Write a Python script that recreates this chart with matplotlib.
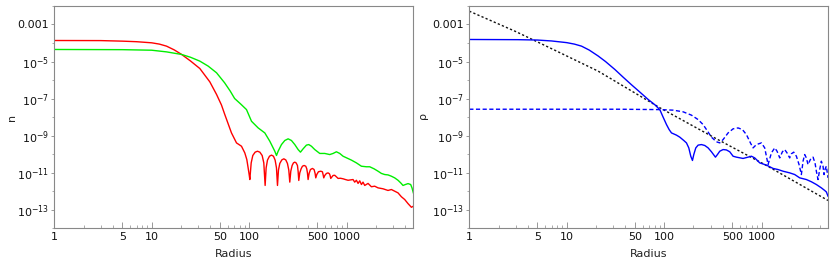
import numpy as np
import matplotlib
matplotlib.use("Agg")
import matplotlib.pyplot as plt
from matplotlib.ticker import FixedLocator, FuncFormatter

plt.rcParams['font.family'] = ['DejaVu Sans']
plt.rcParams['mathtext.default'] = 'regular'

# ---------------- data (radius, log10 of value) ----------------
red_r = [1, 3, 5, 7, 10, 12, 14.2, 17, 20.3, 25, 31.2, 39.5, 46.3, 52, 56.3, 65.9, 74.2, 83.5,
         90.3, 94.7, 97.7, 100.1,
         101.7, 105.0, 109.1, 115.3, 121.8, 128.8, 136.1, 141.5,
         146.0, 149.5, 154.3, 161.8, 169.6, 177.8, 184.9, 190.9,
         195.5, 200.1, 206.5, 216.5, 227.0, 237.9, 247.4, 255.4,
         261.5, 267.8, 276.4, 285.2, 294.3, 303.7, 313.4, 318.4,
         323.5, 331.1, 341.8, 352.7, 366.8, 381.5, 390.6, 396.9,
         403.2, 412.9, 426.0, 446.6, 464.5, 475.7,
         483.2, 494.8, 514.6, 543.7, 565.5, 574.4,
         583.6, 597.6, 621.6, 646.5, 667.3, 677.9,
         688.6, 727.4, 756.6, 793.4, 818.7, 865.1, 921.3, 973.6, 1037,
         1166, 1213, 1263, 1313, 1366, 1422, 1476, 1537, 1663, 1800, 1946,
         2105, 2368, 2664, 2888, 3121, 3375, 3655, 3954, 4275, 4634, 4853]
red_log = [-3.865, -3.87, -3.90, -3.93, -3.99, -4.06, -4.17, -4.37, -4.62, -4.97, -5.38, -6.10,
           -6.78, -7.35, -7.87, -8.86, -9.40, -9.58, -9.94, -10.30, -10.75, -11.11,
           -11.38, -10.48, -10.08, -9.90, -9.85, -9.90, -10.08, -10.48,
           -11.70, -10.75, -10.33, -10.12, -10.06, -10.12, -10.33, -10.75,
           -11.70, -10.87, -10.51, -10.32, -10.26, -10.32, -10.51, -10.87,
           -11.52, -10.93, -10.62, -10.48, -10.44, -10.48, -10.62, -10.93,
           -11.43, -11.02, -10.80, -10.66, -10.62, -10.66, -10.80, -11.02,
           -11.38, -11.05, -10.84, -10.78, -10.84, -11.05,
           -11.29, -11.11, -10.96, -10.93, -10.96, -11.11,
           -11.29, -11.16, -11.05, -11.02, -11.07, -11.16,
           -11.32, -11.16, -11.15, -11.25, -11.32, -11.31, -11.34, -11.38, -11.42,
           -11.38, -11.52, -11.42, -11.59, -11.45, -11.65, -11.52, -11.70, -11.59, -11.77, -11.74,
           -11.83, -11.88, -11.97, -11.92, -12.01, -12.10, -12.31, -12.46, -12.68, -12.88, -12.82]

green_r = [1, 5, 10, 14.2, 20.3, 25, 31.2, 38, 46.3, 56, 64, 71, 82, 94.0, 105.8, 123.8, 144.9,
           163.1, 183.5, 190.9, 198.6, 214.8, 232.4, 251.4, 272.0, 294.3, 318.4, 336.5, 358.3,
           387.6, 409.6, 436.2, 471.9, 531.1, 597.6, 672.4, 727.6, 787.1, 851.6, 921.3,
           1122, 1263, 1421, 1599, 1730, 1916, 2106, 2279, 2466, 2667, 2885, 3121, 3378, 3597,
           3800, 4017, 4277, 4555, 4699, 4851]
green_log = [-4.35, -4.36, -4.39, -4.48, -4.62, -4.77, -4.98, -5.25, -5.61, -6.15, -6.60, -7.00,
             -7.30, -7.60, -8.23, -8.59, -8.86, -9.31, -9.85, -10.08, -9.85, -9.49, -9.27,
             -9.18, -9.27, -9.49, -9.76, -9.90, -9.72, -9.52, -9.49, -9.58, -9.76, -9.97,
             -9.97, -10.03, -9.97, -9.88, -9.97, -10.12,
             -10.33, -10.48, -10.66, -10.69, -10.69, -10.80, -10.93, -11.05, -11.11, -11.13,
             -11.20, -11.29, -11.42, -11.56, -11.70, -11.65, -11.60, -11.65, -11.83, -12.10]

blue_r = [1, 3.16, 5, 7, 10, 12, 14.2, 17, 21, 25, 31.2, 38, 46.3, 56, 68.5, 80, 90.3, 97.7,
          105.8, 112.6, 119.0,
          133.9, 144.9, 159.2, 169.6, 179.2, 187.8, 195.4, 201.6, 211.4, 223.4, 241.7, 261.5,
          282.9, 306.1, 336.4, 352.6, 372.6, 403.1, 436.1, 471.8, 510.5, 552.2, 646.4, 727.4,
          787.0, 851.4, 958.3, 1122, 1313, 1477, 1663, 1946, 2190, 2466, 2885, 3246, 3654,
          4111, 4448, 4627, 4813]
blue_log = [-3.81, -3.82, -3.84, -3.89, -3.98, -4.06, -4.17, -4.38, -4.70, -5.00, -5.43, -5.85,
            -6.26, -6.64, -7.05, -7.33, -7.60, -8.01, -8.41, -8.68, -8.86, -8.98, -9.09,
            -9.27, -9.40, -9.67, -10.12,
            -10.35, -10.03, -9.67, -9.52, -9.49, -9.54, -9.67, -9.88, -10.17, -10.03, -9.85,
            -9.76, -9.78, -9.88, -10.12, -10.17, -10.24, -10.17, -10.12, -10.21, -10.48,
            -10.60, -10.78, -10.84, -10.93, -11.02, -11.11, -11.29, -11.38, -11.50, -11.65,
            -11.83, -11.97, -12.05, -12.28]

blued_r = [1, 35.1, 90.3, 123.8, 156.7, 190.8, 223.4, 251.3, 276.3, 306.1, 344.4, 372.6, 403.1,
           453.6, 510.5, 574.5, 636.4, 699.5, 768.9, 818.7, 886.0, 996.8, 1078, 1167, 1263,
           1366, 1443, 1537, 1637, 1729, 1827, 1946, 2024, 2139, 2279, 2427, 2564, 2667, 2773,
           2885, 3000, 3171, 3377, 3540, 3654, 3800, 3954, 4111, 4277, 4379, 4519, 4627, 4813]
blued_log = [-7.58, -7.58, -7.60, -7.63, -7.72, -7.90, -8.14, -8.41, -8.73, -9.09, -9.34, -9.40,
             -9.22, -8.86, -8.64, -8.59, -8.68, -8.95, -9.40, -9.67, -9.49, -9.40, -9.67,
             -10.57, -9.94, -9.67, -9.85, -10.21, -9.88, -9.76, -9.94, -10.21, -9.99, -9.90,
             -10.12, -10.57, -11.11, -10.39, -10.03, -10.21, -10.57, -10.30, -10.17, -10.48,
             -10.93, -11.38, -10.84, -10.39, -10.66, -11.11, -10.78, -10.66, -11.29]

black_r = [1, 2.94, 7.28, 21, 90.4, 331, 1079, 4808]
black_log = [-2.28, -3.36, -4.35, -5.52, -7.50, -9.13, -10.57, -12.51]

x_major = [1, 5, 10, 50, 100, 500, 1000]
y_major_exp = [-3, -5, -7, -9, -11, -13]

# ---------------- figure ----------------
fig = plt.figure(figsize=(8.30, 2.69), dpi=100)
axL = fig.add_axes([0.0654, 0.1524, 0.4326, 0.8253])
axR = fig.add_axes([0.5654, 0.1524, 0.4326, 0.8253])

gray = '#888888'

def style(ax, ylabel, ylab_x):
    ax.set_xscale('log')
    ax.set_yscale('log')
    ax.set_xlim(1, 4850)
    ax.set_ylim(1e-14, 1e-2)
    for s in ax.spines.values():
        s.set_color(gray)
        s.set_linewidth(0.8)
    ax.xaxis.set_major_locator(FixedLocator(x_major))
    minors = [m * 10 ** d for d in range(0, 4) for m in range(2, 10)
              if m * 10 ** d <= 4850 and m * 10 ** d not in x_major]
    ax.xaxis.set_minor_locator(FixedLocator(minors))
    ax.xaxis.set_major_formatter(FuncFormatter(lambda v, p: f"{int(round(v))}"))
    ax.xaxis.set_minor_formatter(FuncFormatter(lambda v, p: ""))
    ax.yaxis.set_major_locator(FixedLocator([10.0 ** e for e in y_major_exp]))
    ax.yaxis.set_minor_locator(FixedLocator([10.0 ** e for e in range(-14, -1, 2)]))

    def yfmt(v, p):
        e = int(round(np.log10(v)))
        if e == -3:
            return "0.001"
        return r"$10^{%d}$" % e
    ax.yaxis.set_major_formatter(FuncFormatter(yfmt))
    ax.yaxis.set_minor_formatter(FuncFormatter(lambda v, p: ""))
    ax.tick_params(axis='x', which='major', direction='in', length=4, width=0.6,
                   color=gray, labelsize=8, pad=3, top=False)
    ax.tick_params(axis='x', which='minor', direction='in', length=2, width=0.5,
                   color=gray, top=False)
    ax.tick_params(axis='y', which='major', direction='out', length=2.5, width=0.6,
                   color=gray, labelsize=8, pad=1.5, right=False)
    ax.tick_params(axis='y', which='minor', direction='out', length=1.5, width=0.5,
                   color=gray, right=False)
    xl = ax.set_xlabel("Radius", fontsize=8, color='#222222')
    xl.set_va('center')
    ax.xaxis.set_label_coords(0.5, -0.118)
    yl = ax.set_ylabel(ylabel, fontsize=8, color='#222222')
    yl.set_va('center')
    ax.yaxis.set_label_coords(ylab_x, 0.5)
    for lab in ax.get_xticklabels() + ax.get_yticklabels():
        lab.set_color('#111111')

axL.plot(red_r, 10.0 ** np.array(red_log), color='#ff0000', lw=1.0)
axL.plot(green_r, 10.0 ** np.array(green_log), color='#00ee00', lw=1.0)
style(axL, "n", -0.119)

axR.plot(black_r, 10.0 ** np.array(black_log), color='#111111', lw=1.0, linestyle=(0, (1.6, 1.6)))
axR.plot(blued_r, 10.0 ** np.array(blued_log), color='#0000ff', lw=1.0, linestyle=(0, (3, 1.8)))
axR.plot(blue_r, 10.0 ** np.array(blue_log), color='#0000ff', lw=1.0)
style(axR, r"$\rho$", -0.123)

fig.savefig("out.png", dpi=100)
